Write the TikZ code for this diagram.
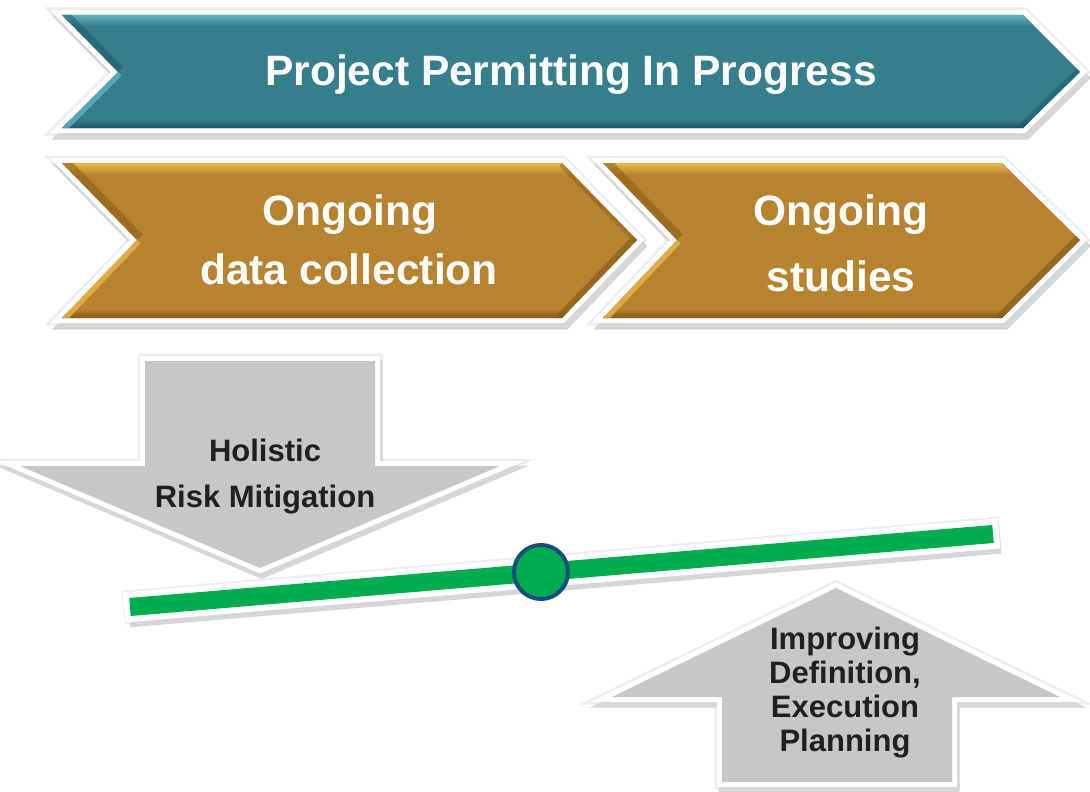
\documentclass[tikz,border=0pt]{standalone}
\usepackage{fontspec}
\setmainfont{Liberation Sans}
\definecolor{tealbase}{RGB}{53,127,140}
\definecolor{tealhi}{RGB}{95,178,192}
\definecolor{tealdk}{RGB}{28,88,98}
\definecolor{brownbase}{RGB}{183,131,47}
\definecolor{brownhi}{RGB}{232,183,72}
\definecolor{browndk}{RGB}{128,88,24}
\definecolor{arrowgray}{RGB}{198,199,201}
\definecolor{txtdark}{RGB}{35,31,32}
\definecolor{levergreen}{RGB}{0,173,78}
\definecolor{pivotblue}{RGB}{22,78,128}
\begin{document}
\begin{tikzpicture}[x=1pt,y=-1pt,line join=miter,miter limit=12,
  bannertext/.style={text=white,font=\bfseries\fontsize{42.5}{50}\selectfont,anchor=base,inner sep=0pt},
  graytext/.style={text=txtdark,font=\bfseries\fontsize{31}{36}\selectfont,anchor=base,inner sep=0pt},
  haloedge/.style={draw=black!7,line width=15},
  shadowedge/.style={draw=black!16,line width=11},
  whiteedge/.style={draw=white,line width=10},
]
\useasboundingbox (0,0) rectangle (1090,792);
\fill[white] (0,0) rectangle (1090,792);

% ---------- teal banner ----------
\def\tealpath{(62,15) -- (1023,15) -- (1080,72) -- (1023,128) -- (62,128) -- (118,72) -- cycle}
\draw[haloedge] \tealpath;
\draw[shadowedge,shift={(3,6)}] \tealpath;
\draw[whiteedge] \tealpath;
\fill[tealbase] \tealpath;
\begin{scope}
  \clip \tealpath;
  \shade[top color=tealhi,bottom color=tealbase] (0,15) rectangle (1090,26);
  \shade[top color=tealbase,bottom color=tealdk] (0,119) rectangle (1090,128);
  \draw[tealdk,line width=14,opacity=0.5] (62,15) -- (118,72);
  \draw[tealhi,line width=10,opacity=0.8] (118,72) -- (62,128);
  \draw[tealdk,line width=10,opacity=0.5] (1080,72) -- (1023,128);
\end{scope}

% ---------- brown chevron 1 ----------
\def\brownApath{(62,163) -- (562,163) -- (637,240) -- (562,318) -- (62,318) -- (137,240) -- cycle}
\draw[haloedge] \brownApath;
\draw[shadowedge,shift={(3,6)}] \brownApath;
\draw[whiteedge] \brownApath;
\fill[brownbase] \brownApath;
\begin{scope}
  \clip \brownApath;
  \shade[top color=brownhi,bottom color=brownbase] (0,163) rectangle (1090,175);
  \shade[top color=brownbase,bottom color=browndk] (0,309) rectangle (1090,318);
  \draw[browndk,line width=16,opacity=0.5] (62,163) -- (137,240);
  \draw[brownhi,line width=10,opacity=0.8] (137,240) -- (62,318);
  \draw[browndk,line width=12,opacity=0.6] (637,240) -- (562,318);
  \draw[browndk,line width=8,opacity=0.4] (562,163) -- (637,240);
\end{scope}

% ---------- brown chevron 2 ----------
\def\brownBpath{(603,163) -- (1002,163) -- (1080,240) -- (1002,318) -- (603,318) -- (677,240) -- cycle}
\draw[haloedge] \brownBpath;
\draw[shadowedge,shift={(3,6)}] \brownBpath;
\draw[whiteedge] \brownBpath;
\fill[brownbase] \brownBpath;
\begin{scope}
  \clip \brownBpath;
  \shade[top color=brownhi,bottom color=brownbase] (0,163) rectangle (1090,175);
  \shade[top color=brownbase,bottom color=browndk] (0,309) rectangle (1090,318);
  \draw[browndk,line width=16,opacity=0.5] (603,163) -- (677,240);
  \draw[brownhi,line width=10,opacity=0.8] (677,240) -- (603,318);
  \draw[browndk,line width=12,opacity=0.6] (1080,240) -- (1002,318);
\end{scope}

% ---------- banner texts ----------
\node[bannertext] (permit) at (571,85) {Project Permitting In Progress};
\node[bannertext] (dataA) at (350,225) {Ongoing};
\node[bannertext] (dataB) at (349,284) {data collection};
\node[bannertext] (studA) at (841,225) {Ongoing};
\node[bannertext] (studB) at (841,291) {studies};

% ---------- down arrow ----------
\def\downpath{(145,361) -- (375,361) -- (375,466) -- (500,466) -- (260,568) -- (20,466) -- (145,466) -- cycle}
\draw[haloedge] \downpath;
\draw[shadowedge,shift={(2,5)}] \downpath;
\draw[whiteedge] \downpath;
\fill[arrowgray] \downpath;
\node[graytext] (holA) at (265,461) {Holistic};
\node[graytext] (holB) at (265,507) {Risk Mitigation};

% ---------- lever ----------
\coordinate (levL) at (130,607);
\coordinate (levR) at (993,534);
\draw[black!7,line width=34,shorten <=-7pt,shorten >=-7pt] (levL) -- (levR);
\draw[black!16,line width=30,shorten <=-4pt,shorten >=-4pt] ([shift={(3,5)}]levL) -- ([shift={(3,5)}]levR);
\draw[white,line width=30,shorten <=-6pt,shorten >=-6pt] (levL) -- (levR);
\draw[levergreen,line width=18] (levL) -- (levR);
\node[circle,fill=levergreen,draw=pivotblue,line width=4,minimum size=54pt,inner sep=0pt] (pivot) at (541,572) {};

% ---------- up arrow ----------
\def\uppath{(836,588) -- (1060,697) -- (952,697) -- (952,782) -- (722,782) -- (722,697) -- (612,697) -- cycle}
\draw[haloedge] \uppath;
\draw[shadowedge,shift={(2,5)}] \uppath;
\draw[whiteedge] \uppath;
\fill[arrowgray] \uppath;
\node[graytext] (impA) at (845,649) {Improving};
\node[graytext] (impB) at (845,683) {Definition,};
\node[graytext] (impC) at (845,717) {Execution};
\node[graytext] (impD) at (845,751) {Planning};
\end{tikzpicture}
\end{document}
